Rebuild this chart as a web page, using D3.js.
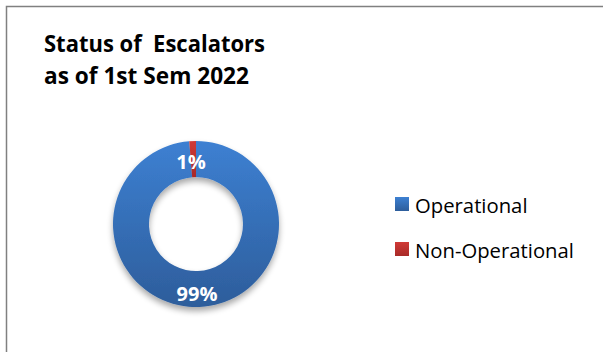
<!DOCTYPE html>
<meta charset="utf-8">
<style>
body { margin: 0; background: #fff; }
text { font-family: 'Open Sans', sans-serif; }
</style>
<body>
<svg width="603" height="352"></svg>
<script src="https://d3js.org/d3.v7.min.js"></script>
<script>
// chart data (share of escalators, %)
var categories = ["Operational", "Non-Operational"];
var values = [98.7, 1.3];

var svg = d3.select("svg");
var fmtPct = function(v) { return Math.round(v) + "%"; };

// gradients + shadow
var defs = svg.append("defs");
var gBlue = defs.append("linearGradient").attr("id", "gBlue")
    .attr("x1", 0).attr("y1", 0).attr("x2", 0).attr("y2", 1);
gBlue.append("stop").attr("offset", "0%").attr("stop-color", "#3d80d2");
gBlue.append("stop").attr("offset", "100%").attr("stop-color", "#2d5d9b");
var gRed = defs.append("linearGradient").attr("id", "gRed")
    .attr("x1", 0).attr("y1", 0).attr("x2", 0).attr("y2", 1);
gRed.append("stop").attr("offset", "0%").attr("stop-color", "#d03a36");
gRed.append("stop").attr("offset", "100%").attr("stop-color", "#a82a28");
var shadow = defs.append("filter").attr("id", "shadow")
    .attr("x", "-20%").attr("y", "-20%").attr("width", "140%").attr("height", "150%");
shadow.append("feGaussianBlur").attr("in", "SourceAlpha").attr("stdDeviation", 3);
shadow.append("feOffset").attr("dy", 4).attr("result", "blur");
shadow.append("feComponentTransfer").append("feFuncA").attr("type", "linear").attr("slope", 0.35);
var merge = shadow.append("feMerge");
merge.append("feMergeNode");
merge.append("feMergeNode").attr("in", "SourceGraphic");

// frame
svg.append("rect")
    .attr("x", 6.5).attr("y", 6.5).attr("width", 620).attr("height", 360)
    .attr("fill", "none").attr("stroke", "#808080").attr("stroke-width", 1.5);

// title
var title = svg.append("text")
    .attr("font-size", 23).attr("font-weight", "bold").attr("fill", "#000");
title.append("tspan").attr("x", 44).attr("y", 52)
    .attr("xml:space", "preserve")
    .attr("textLength", 221).attr("lengthAdjust", "spacingAndGlyphs")
    .text("Status of  Escalators");
title.append("tspan").attr("x", 44).attr("y", 84)
    .attr("textLength", 205).attr("lengthAdjust", "spacingAndGlyphs")
    .text("as of 1st Sem 2022");

// donut
var cx = 196, cy = 224, outerR = 83, innerR = 47;
var pie = d3.pie().sort(null).value(function(d) { return d; });
var arc = d3.arc().innerRadius(innerR).outerRadius(outerR);
var arcs = pie(values);
var fills = ["url(#gBlue)", "url(#gRed)"];

var g = svg.append("g").attr("transform", "translate(" + cx + "," + cy + ")");
g.append("g").attr("filter", "url(#shadow)")
  .selectAll("path")
  .data(arcs)
  .enter().append("path")
    .attr("d", arc)
    .attr("fill", function(d, i) { return fills[i]; });

// data labels
var labelPos = [[1, 69], [-5, -63]];
g.selectAll("text.lbl")
  .data(arcs)
  .enter().append("text")
    .attr("class", "lbl")
    .attr("x", function(d, i) { return labelPos[i][0]; })
    .attr("y", function(d, i) { return labelPos[i][1]; })
    .attr("text-anchor", "middle")
    .attr("dominant-baseline", "central")
    .attr("font-size", 20).attr("font-weight", "bold").attr("fill", "#fff")
    .text(function(d) { return fmtPct(d.data); });

// legend
var legend = svg.append("g").attr("transform", "translate(395,197)");
var item = legend.selectAll("g")
  .data(categories)
  .enter().append("g")
    .attr("transform", function(d, i) { return "translate(0," + (i * 45) + ")"; });
item.append("rect")
    .attr("width", 14).attr("height", 14)
    .attr("fill", function(d, i) { return fills[i]; });
item.append("text")
    .attr("x", 20).attr("y", 7.5)
    .attr("dominant-baseline", "central")
    .attr("font-size", 20.3).attr("fill", "#000")
    .text(function(d) { return d; });
</script>
</body>
